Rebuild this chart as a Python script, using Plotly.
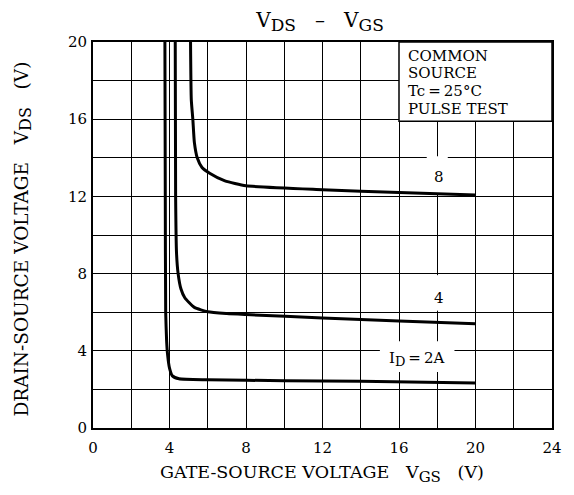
import plotly.graph_objects as go

# ---- data ----
id_labels = ["2A", "4A", "8A"]

vgs_2a = [3.76, 3.78, 3.80, 3.85, 3.90, 4.00, 4.15, 4.50, 6.0, 10.0, 14.0, 20.0]
vds_2a = [20.0, 12.0, 6.0, 4.5, 3.8, 3.1, 2.7, 2.55, 2.50, 2.45, 2.42, 2.33]

vgs_4a = [4.30, 4.32, 4.37, 4.45, 4.60, 4.80, 5.30, 6.0, 7.0, 8.0, 12.0, 16.0, 20.0]
vds_4a = [20.0, 12.0, 9.0, 8.0, 7.2, 6.75, 6.25, 6.02, 5.93, 5.88, 5.70, 5.55, 5.40]

vgs_8a = [5.10, 5.14, 5.22, 5.30, 5.45, 5.70, 6.10, 6.90, 8.0, 12.0, 16.0, 20.0]
vds_8a = [20.0, 17.0, 16.0, 14.8, 14.0, 13.5, 13.2, 12.8, 12.55, 12.35, 12.2, 12.07]

x_ticks = [0, 4, 8, 12, 16, 20, 24]
y_ticks = [0, 4, 8, 12, 16, 20]

condition_lines = ["COMMON", "SOURCE", "Tc\u2009=\u200925°C", "PULSE TEST"]

FONT = "DejaVu Serif"
NB = "\u00a0"
BODY = 8  # default page margin of the html body
W, H = 574 - BODY, 495 - BODY


def sub(s, size):
    return "<sub><span style='font-size:%dpx'>%s</span></sub>" % (size, s)


fig = go.Figure()
for xs, ys in [(vgs_2a, vds_2a), (vgs_4a, vds_4a), (vgs_8a, vds_8a)]:
    fig.add_trace(go.Scatter(x=xs, y=ys, mode="lines",
                             line=dict(color="black", width=3, shape="spline", smoothing=0.5),
                             showlegend=False, hoverinfo="skip"))

# white patches breaking the grid behind the curve labels
for x0, x1, y0, y1 in [(17.45, 18.55, 12.1, 14.08), (17.5, 18.5, 6.08, 7.92), (15.0, 18.9, 2.9, 4.5)]:
    fig.add_shape(type="rect", x0=x0, x1=x1, y0=y0, y1=y1, xref="x", yref="y",
                  fillcolor="white", line=dict(width=0), layer="between")

# condition box
fig.add_shape(type="rect", x0=16, x1=24, y0=15.9, y1=20, xref="x", yref="y",
              fillcolor="white", line=dict(color="black", width=1.5), layer="above")
for i, t in enumerate(condition_lines):
    fig.add_annotation(x=16.4, y=19.3 - 0.925 * i, xref="x", yref="y", xanchor="left",
                       yanchor="middle", text=t.replace(" ", NB), showarrow=False,
                       borderpad=0,
                       font=dict(family=FONT, size=15, color="black"))

fig.add_annotation(x=18.1, y=13.0, xref="x", yref="y", text="8", showarrow=False,
                   font=dict(family=FONT, size=15, color="black"))
fig.add_annotation(x=18.1, y=6.75, xref="x", yref="y", text="4", showarrow=False,
                   font=dict(family=FONT, size=15, color="black"))
fig.add_annotation(x=16.9, y=3.6, xref="x", yref="y",
                   text="I" + sub("D", 13) + "\u2009=\u20092A", showarrow=False,
                   font=dict(family=FONT, size=15, color="black"))

# axis titles
fig.add_annotation(xref="paper", yref="paper", x=(324 - 93) / 463, y=(428 - 474) / 386,
                   xanchor="center", yanchor="middle", showarrow=False,
                   text="GATE-SOURCE" + NB + "VOLTAGE" + NB * 3 + "V" + sub("GS", 15) + NB * 3 + "(V)",
                   font=dict(family=FONT, size=17.5, color="black"))
fig.add_annotation(xref="paper", yref="paper", x=(22 - 93) / 463, y=(428 - 239) / 386,
                   xanchor="center", yanchor="middle", showarrow=False, textangle=-90,
                   text="DRAIN-SOURCE" + NB + "VOLTAGE" + NB * 3 + "V" + sub("DS", 16) + NB * 3 + "(V)",
                   font=dict(family=FONT, size=18.5, color="black"))

axis_common = dict(showline=True, linecolor="black", linewidth=2, mirror=True,
                   showgrid=True, gridcolor="black", gridwidth=1.3, zeroline=False,
                   ticks="", tickfont=dict(family=FONT, size=15, color="black"),
                   minor=dict(dtick=2, showgrid=True, gridcolor="black", gridwidth=1.3))

fig.update_xaxes(range=[0, 24], tickvals=x_ticks, ticktext=[str(v) for v in x_ticks],
                 ticklabelstandoff=5, **axis_common)
fig.update_yaxes(range=[0, 20], tickvals=y_ticks, ticktext=[str(v) for v in y_ticks],
                 ticklabelstandoff=1, **axis_common)

fig.update_layout(
    width=W, height=H,
    margin=dict(l=93 - BODY, r=18, t=42 - BODY, b=67),
    paper_bgcolor="white", plot_bgcolor="white",
    title=dict(text="V" + sub("DS", 17) + NB * 3 + "–" + NB * 3 + "V" + sub("GS", 17),
               x=(320 - BODY) / W, xanchor="center",
               y=1 - (20 - BODY) / H, yanchor="middle",
               font=dict(family=FONT, size=20, color="black")),
)

fig.write_html("out.html")
